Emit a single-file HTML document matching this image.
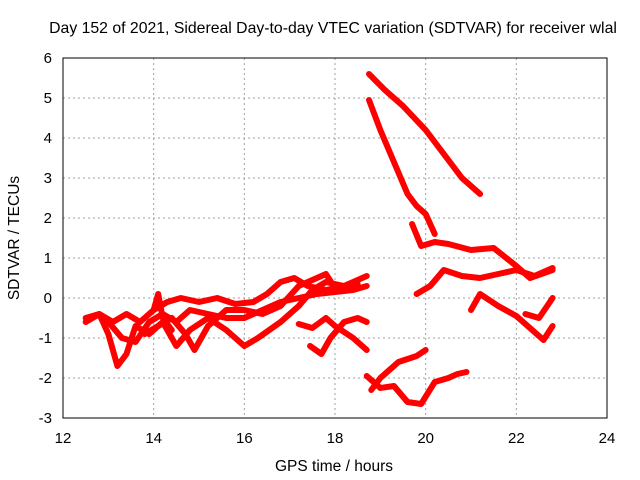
<!DOCTYPE html>
<html><head><meta charset="utf-8"><style>
body{margin:0;background:#fff}
svg{display:block;font-family:"Liberation Sans",sans-serif}
</style></head><body>
<svg id="chart" width="640" height="480" xmlns="http://www.w3.org/2000/svg">
<text x="333" y="33" font-size="15.8" text-anchor="middle">Day 152 of 2021, Sidereal Day-to-day VTEC variation (SDTVAR) for receiver wlal</text>
<text x="334" y="471" font-size="15.5" text-anchor="middle">GPS time / hours</text>
<text transform="translate(19,238) rotate(-90)" font-size="15.5" text-anchor="middle">SDTVAR / TECUs</text>
<g id="grid"></g><g id="ticks"></g><g id="marks"></g>
<rect x="63" y="58" width="544" height="360" fill="none" stroke="#000" stroke-width="1"/>
</svg>
<script>
const xTicks=[12,14,16,18,20,22,24];
const yTicks=[-3,-2,-1,0,1,2,3,4,5,6];
const s1=[[18.75,5.6],[19.1,5.2],[19.5,4.8],[20.0,4.2],[20.4,3.6],[20.8,3.0],[21.2,2.6]];
const s2=[[18.75,4.95],[19.0,4.2],[19.3,3.4],[19.6,2.6],[19.8,2.3],[20.0,2.1],[20.2,1.6]];
const s3=[[19.7,1.85],[19.9,1.3],[20.2,1.4],[20.5,1.35],[21.0,1.2],[21.5,1.25],[22.0,0.8],[22.3,0.5],[22.8,0.7]];
const s4=[[19.8,0.1],[20.1,0.3],[20.4,0.7],[20.8,0.55],[21.2,0.5],[21.6,0.6],[22.0,0.7],[22.4,0.55],[22.8,0.75]];
const s5=[[21.0,-0.3],[21.2,0.1],[21.6,-0.2],[22.0,-0.45],[22.4,-0.85],[22.6,-1.05],[22.8,-0.7]];
const s6=[[22.2,-0.4],[22.5,-0.5],[22.8,0.0]];
const s7=[[18.7,-1.95],[19.0,-2.25],[19.3,-2.2],[19.6,-2.6],[19.9,-2.65],[20.2,-2.1],[20.5,-2.0],[20.7,-1.9],[20.9,-1.85]];
const s8=[[18.8,-2.3],[19.0,-2.0],[19.4,-1.6],[19.8,-1.45],[20.0,-1.3]];
const s9=[[12.5,-0.5],[12.8,-0.4],[13.1,-0.6],[13.4,-0.4],[13.7,-0.6],[14.0,-0.3],[14.3,-0.1],[14.6,0.0],[15.0,-0.1],[15.4,0.0],[15.8,-0.15],[16.2,-0.1],[16.5,0.1],[16.8,0.4],[17.1,0.5],[17.4,0.3],[17.8,0.2],[18.2,0.3],[18.7,0.55]];
const s10=[[12.5,-0.6],[12.8,-0.4],[13.0,-0.9],[13.2,-1.7],[13.4,-1.4],[13.6,-0.7],[13.9,-0.9],[14.2,-0.6],[14.5,-1.2],[14.8,-0.8],[15.2,-0.5],[15.6,-0.8],[16.0,-1.2],[16.3,-1.0],[16.8,-0.6],[17.2,-0.2],[17.5,0.2],[17.8,0.4],[18.2,0.3],[18.5,0.35]];
const s11=[[13.0,-0.6],[13.3,-1.0],[13.6,-1.1],[13.9,-0.6],[14.2,-0.4],[14.5,-0.6],[14.8,-0.3],[15.2,-0.4],[15.6,-0.5],[16.0,-0.5],[16.4,-0.3],[16.8,-0.1],[17.2,0.0],[17.6,0.1],[18.0,0.15],[18.4,0.2],[18.7,0.3]];
const s12=[[13.8,-0.9],[14.1,-0.7],[14.4,-0.5],[14.7,-0.9],[14.9,-1.3],[15.2,-0.7],[15.6,-0.3],[16.0,-0.3],[16.4,-0.4],[16.8,-0.2],[17.2,0.3],[17.6,0.5],[17.8,0.6],[18.0,0.25]];
const s13=[[17.2,-0.65],[17.5,-0.75],[17.8,-0.5],[18.0,-0.7],[18.4,-1.0],[18.7,-1.3]];
const s14=[[17.45,-1.2],[17.7,-1.4],[17.9,-1.0],[18.2,-0.6],[18.5,-0.5],[18.7,-0.6]];
const s15=[[14.0,-0.3],[14.1,0.1],[14.2,-0.5],[14.4,-0.8]];
const seriesList=[s1,s2,s3,s4,s5,s6,s7,s8,s9,s10,s11,s12,s13,s14,s15];
const X=v=>63+(v-12)*544/12, Y=v=>58+(6-v)*40;
const NS="http://www.w3.org/2000/svg";
const g=document.getElementById('grid'),t=document.getElementById('ticks'),m=document.getElementById('marks');
function mk(tag,attrs,parent){const e=document.createElementNS(NS,tag);for(const k in attrs)e.setAttribute(k,attrs[k]);parent.appendChild(e);return e;}
xTicks.forEach(v=>{
 const l=mk('line',{x1:X(v),x2:X(v),y1:58,y2:418,stroke:'#a0a0a0','stroke-dasharray':'2,3'},g);
 
 
 const tx=mk('text',{x:X(v),y:443,'font-size':15,'text-anchor':'middle'},t);tx.textContent=v;
 
 
});
yTicks.forEach(v=>{
 const l=mk('line',{x1:63,x2:607,y1:Y(v),y2:Y(v),stroke:'#a0a0a0','stroke-dasharray':'2,3'},g);
 
 
 const tx=mk('text',{x:52,y:Y(v)+5,'font-size':15,'text-anchor':'end'},t);tx.textContent=v;
 
 
});
seriesList.forEach((s,i)=>{
 const p=mk('polyline',{points:s.map(d=>X(d[0])+','+Y(d[1])).join(' '),fill:'none',stroke:'#ff0000','stroke-width':6,'stroke-linejoin':'round','stroke-linecap':'round'},m);
 
 
});
</script>
</body></html>
